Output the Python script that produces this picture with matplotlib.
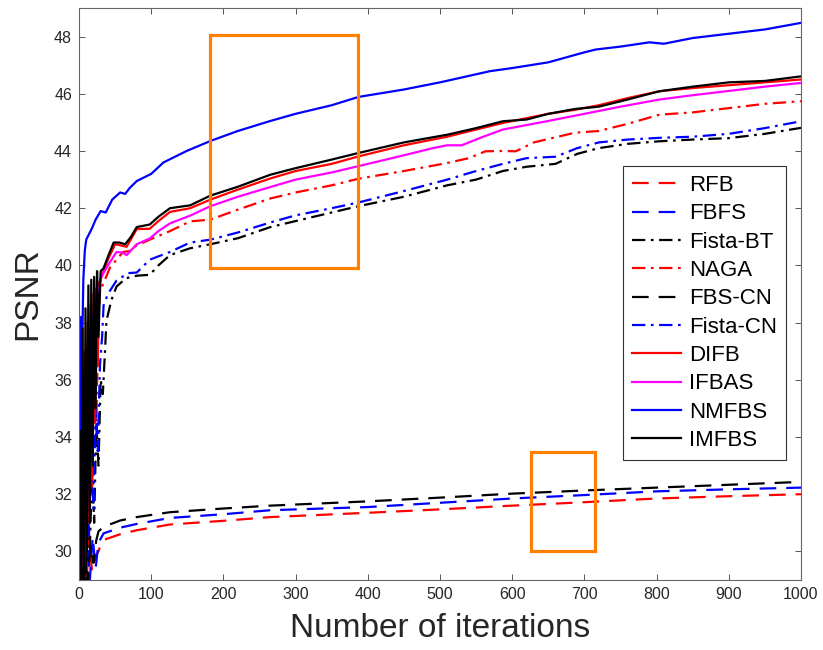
import numpy as np
import matplotlib
matplotlib.use("Agg")
from matplotlib import pyplot as plt
from matplotlib.patches import Rectangle

# Data (iteration, PSNR)
rfb_it = [1, 2, 4, 7, 10, 14, 18, 22, 27, 30, 34, 57, 80, 126, 200, 265, 400, 500, 600, 700, 800, 900, 1000]
rfb_v = [28.5, 32.0, 28.5, 31.0, 28.8, 30.5, 29.3, 29.8, 30.0, 30.25, 30.4, 30.6, 30.74, 30.94, 31.07, 31.2,
         31.35, 31.47, 31.6, 31.72, 31.85, 31.93, 32.0]

fbfs_it = [1, 4, 7, 11, 15, 19, 23, 27, 34, 57, 80, 126, 200, 265, 400, 500, 600, 700, 800, 900, 1000]
fbfs_v = [28.5, 32.0, 28.6, 31.0, 29.0, 30.5, 29.4, 30.3, 30.63, 30.83, 30.96, 31.17, 31.3, 31.44,
          31.55, 31.7, 31.85, 31.97, 32.1, 32.17, 32.23]

fistabt_it = [1, 6, 9, 12, 15, 18, 21, 24, 27, 30, 33, 36, 38, 45, 52, 65, 80, 98, 110, 126, 154, 182, 220,
              265, 300, 350, 387, 450, 510, 550, 587, 620, 660, 690, 720, 760, 804, 850, 900, 950, 1000]
fistabt_v = [28.5, 30.5, 29.0, 31.5, 30.0, 33.0, 31.0, 34.5, 33.0, 36.0, 35.5, 37.0, 38.06, 38.8, 39.26,
             39.55, 39.64, 39.67, 40.0, 40.36, 40.6, 40.74, 40.95, 41.34, 41.55, 41.85, 42.07, 42.4, 42.8,
             43.0, 43.3, 43.45, 43.55, 43.9, 44.1, 44.25, 44.34, 44.4, 44.45, 44.6, 44.81]

naga_it = [1, 4, 6, 9, 12, 15, 18, 21, 24, 27, 29, 36, 43, 52, 61, 70, 80, 98, 126, 154, 182, 220, 265, 300,
           350, 387, 450, 510, 540, 563, 585, 605, 630, 687, 720, 760, 804, 850, 900, 950, 1000]
naga_v = [28.5, 32.0, 29.5, 34.0, 30.5, 35.5, 32.0, 37.0, 34.5, 38.2, 39.1, 39.5, 39.93, 40.2, 40.47, 40.5,
          40.7, 40.9, 41.2, 41.54, 41.6, 41.95, 42.34, 42.55, 42.8, 43.03, 43.3, 43.58, 43.75, 43.99, 44.0,
          43.99, 44.3, 44.64, 44.7, 44.95, 45.27, 45.35, 45.5, 45.65, 45.74]

fbscn_it = [1, 3, 5, 8, 12, 16, 20, 24, 27, 34, 57, 80, 126, 200, 265, 400, 500, 600, 700, 800, 900, 1000]
fbscn_v = [28.5, 33.0, 28.6, 31.5, 29.0, 30.2, 29.6, 30.4, 30.7, 30.86, 31.08, 31.2, 31.37, 31.5, 31.6,
           31.75, 31.88, 32.02, 32.13, 32.23, 32.33, 32.43]

fistacn_it = [1, 5, 8, 11, 14, 17, 20, 23, 26, 29, 32, 34, 40, 52, 60, 68, 80, 98, 126, 154, 182, 220, 265,
              300, 350, 387, 450, 510, 550, 587, 620, 660, 690, 720, 760, 804, 850, 900, 950, 1000]
fistacn_v = [28.5, 31.0, 29.5, 32.5, 30.5, 33.5, 31.5, 35.0, 33.5, 36.5, 37.5, 38.6, 39.0, 39.47, 39.6,
             39.73, 39.75, 40.2, 40.47, 40.8, 40.9, 41.15, 41.5, 41.75, 42.0, 42.2, 42.6, 43.0, 43.3, 43.55,
             43.75, 43.8, 44.1, 44.3, 44.4, 44.46, 44.5, 44.6, 44.8, 45.04]

difb_it = [1, 2, 4, 6, 8, 10, 12, 14, 16, 18, 20, 22, 24, 26, 28, 31, 34, 40, 50, 58, 66, 80, 98, 110, 126,
           154, 182, 220, 265, 300, 350, 387, 450, 510, 587, 650, 687, 720, 760, 804, 850, 900, 950, 1000]
difb_v = [36.4, 28.5, 35.0, 29.5, 37.0, 30.0, 38.0, 31.0, 38.6, 32.5, 39.0, 34.5, 39.2, 36.5, 39.4, 39.6,
          39.8, 40.2, 40.74, 40.7, 40.65, 41.27, 41.28, 41.55, 41.87, 42.0, 42.3, 42.65, 43.04, 43.3, 43.55,
          43.81, 44.2, 44.5, 44.98, 45.3, 45.44, 45.6, 45.85, 46.09, 46.2, 46.3, 46.4, 46.5]

ifbas_it = [1, 3, 5, 8, 11, 14, 17, 20, 23, 26, 31, 40, 52, 60, 66, 80, 98, 110, 126, 154, 182, 220, 265,
            300, 350, 387, 450, 490, 510, 530, 560, 587, 650, 700, 750, 804, 850, 900, 950, 1000]
ifbas_v = [28.5, 33.0, 29.5, 35.5, 31.0, 37.0, 33.0, 38.3, 36.0, 39.0, 39.6, 40.0, 40.47, 40.45, 40.36,
           40.74, 40.94, 41.2, 41.47, 41.74, 42.07, 42.4, 42.74, 43.0, 43.25, 43.47, 43.85, 44.1, 44.2, 44.2,
           44.5, 44.75, 45.05, 45.3, 45.55, 45.8, 45.95, 46.1, 46.25, 46.38]

nmfbs_it = [1, 2, 3, 4, 6, 8, 10, 14, 18, 23, 30, 37, 46, 57, 64, 70, 80, 100, 117, 149, 182, 220, 265, 300,
            350, 387, 450, 500, 569, 600, 650, 700, 716, 750, 790, 810, 850, 900, 950, 1000]
nmfbs_v = [28.5, 34.0, 38.2, 36.5, 39.5, 40.5, 40.9, 41.1, 41.3, 41.6, 41.9, 41.85, 42.3, 42.55, 42.5, 42.7,
           42.95, 43.2, 43.6, 44.0, 44.35, 44.7, 45.05, 45.3, 45.6, 45.89, 46.15, 46.4, 46.79, 46.9, 47.1,
           47.45, 47.55, 47.65, 47.8, 47.75, 47.95, 48.1, 48.25, 48.48]

imfbs_it = [1, 2, 3, 5, 7, 9, 11, 13, 15, 17, 19, 21, 23, 25, 27, 30, 34, 40, 48, 56, 64, 72, 80, 98, 110,
            126, 140, 154, 182, 220, 265, 300, 350, 387, 450, 510, 550, 587, 620, 650, 687, 720, 760, 804,
            850, 900, 950, 1000]
imfbs_v = [28.5, 34.2, 28.5, 37.8, 28.5, 38.5, 30.0, 39.3, 31.0, 39.5, 33.0, 39.6, 35.0, 39.8, 37.5, 39.8,
           39.9, 40.3, 40.8, 40.8, 40.74, 41.0, 41.34, 41.43, 41.7, 42.0, 42.05, 42.1, 42.44, 42.75, 43.17,
           43.4, 43.7, 43.93, 44.3, 44.57, 44.8, 45.04, 45.1, 45.3, 45.47, 45.55, 45.8, 46.09, 46.25, 46.4,
           46.45, 46.61]

# zoom boxes (iteration range, PSNR range)
box1_x = [182, 386]
box1_y = [39.9, 48.05]
box2_x = [626, 714]
box2_y = [30.0, 33.46]

dash = (7.5, 4.5)
dashdot = (6, 2.5, 1.2, 2.5)

series = [
    ("RFB", rfb_it, rfb_v, "#ff0000", dash),
    ("FBFS", fbfs_it, fbfs_v, "#0000ff", dash),
    ("Fista-BT", fistabt_it, fistabt_v, "#000000", dashdot),
    ("NAGA", naga_it, naga_v, "#ff0000", dashdot),
    ("FBS-CN", fbscn_it, fbscn_v, "#000000", dash),
    ("Fista-CN", fistacn_it, fistacn_v, "#0000ff", dashdot),
    ("DIFB", difb_it, difb_v, "#ff0000", None),
    ("IFBAS", ifbas_it, ifbas_v, "#ff00ff", None),
    ("NMFBS", nmfbs_it, nmfbs_v, "#0000ff", None),
    ("IMFBS", imfbs_it, imfbs_v, "#000000", None),
]

plt.rcParams['font.family'] = ['Liberation Sans', 'DejaVu Sans']

fig = plt.figure(figsize=(8.23, 6.5), dpi=100)
ax = fig.add_axes([79 / 823, 1 - 580 / 650, 722 / 823, 572 / 650])

for name, it, v, col, ls in series:
    line, = ax.plot(it, v, color=col, lw=1.6, label=name)
    if ls is not None:
        line.set_dashes(ls)

for bx, by in [(box1_x, box1_y), (box2_x, box2_y)]:
    ax.add_patch(Rectangle((bx[0], by[0]), bx[1] - bx[0], by[1] - by[0],
                           fill=False, edgecolor="#ff8000", lw=2.3, zorder=5))

ax.set_xlim(0, 1000)
ax.set_ylim(29, 49)
ax.set_xticks(np.arange(0, 1001, 100))
ax.set_yticks(np.arange(30, 49, 2))
ax.tick_params(direction="in", top=True, right=True, length=4, width=0.7,
               colors="#555555", labelcolor="#262626", labelsize=11.5, pad=5)
for sp in ax.spines.values():
    sp.set_color("#666666")
    sp.set_linewidth(0.8)

ax.set_xlabel("Number of iterations", fontsize=24, color="#262626", labelpad=8)
ax.set_ylabel("PSNR", fontsize=24, color="#262626", labelpad=8)

leg = ax.legend(loc="lower right", bbox_to_anchor=(0.979, 0.21), borderaxespad=0,
                fontsize=16, fancybox=False, framealpha=1, edgecolor="#333333",
                handlelength=2.2, handletextpad=0.35, labelspacing=0.33, borderpad=0.4)
leg.get_frame().set_linewidth(0.8)

fig.savefig("out.png", dpi=100)
